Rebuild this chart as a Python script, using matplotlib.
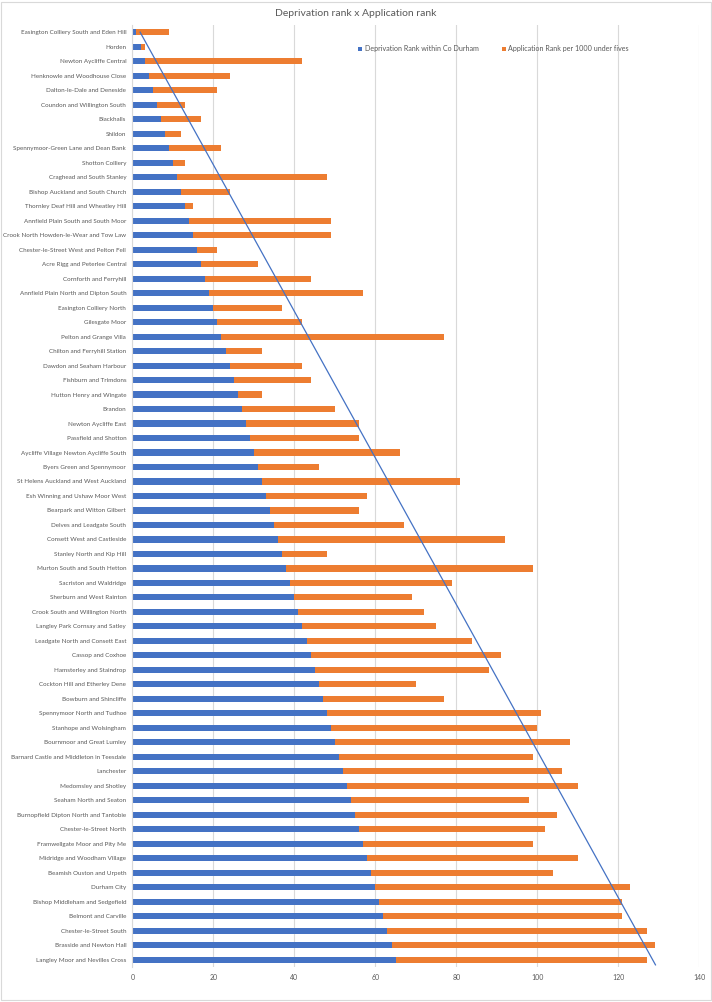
import numpy as np
import matplotlib
matplotlib.use("Agg")
import matplotlib.pyplot as plt
from matplotlib.patches import Rectangle

# wards, ordered by deprivation rank (top of chart first)
wards = [
    "Easington Colliery South and Eden Hill", "Horden", "Newton Aycliffe Central",
    "Henknowle and Woodhouse Close", "Dalton-le-Dale and Deneside",
    "Coundon and Willington South", "Blackhalls", "Shildon",
    "Spennymoor-Green Lane and Dean Bank", "Shotton Colliery",
    "Craghead and South Stanley", "Bishop Auckland and South Church",
    "Thornley Deaf Hill and Wheatley Hill", "Annfield Plain South and South Moor",
    "Crook North Howden-le-Wear and Tow Law", "Chester-le-Street West and Pelton Fell",
    "Acre Rigg and Peterlee Central", "Cornforth and Ferryhill",
    "Annfield Plain North and Dipton South", "Easington Colliery North",
    "Gilesgate Moor", "Pelton and Grange Villa", "Chilton and Ferryhill Station",
    "Dawdon and Seaham Harbour", "Fishburn and Trimdons", "Hutton Henry and Wingate",
    "Brandon", "Newton Aycliffe East", "Passfield and Shotton",
    "Aycliffe Village Newton Aycliffe South", "Byers Green and Spennymoor",
    "St Helens Auckland and West Auckland", "Esh Winning and Ushaw Moor West",
    "Bearpark and Witton Gilbert", "Delves and Leadgate South",
    "Consett West and Castleside", "Stanley North and Kip Hill",
    "Murton South and South Hetton", "Sacriston and Waldridge",
    "Sherburn and West Rainton", "Crook South and Willington North",
    "Langley Park Cornsay and Satley", "Leadgate North and Consett East",
    "Cassop and Coxhoe", "Hamsterley and Staindrop", "Cockton Hill and Etherley Dene",
    "Bowburn and Shincliffe", "Spennymoor North and Tudhoe", "Stanhope and Wolsingham",
    "Bournmoor and Great Lumley", "Barnard Castle and Middleton in Teesdale",
    "Lanchester", "Medomsley and Shotley", "Seaham North and Seaton",
    "Burnopfield Dipton North and Tantobie", "Chester-le-Street North",
    "Framwellgate Moor and Pity Me", "Midridge and Woodham Village",
    "Beamish Ouston and Urpeth", "Durham City", "Bishop Middleham and Sedgefield",
    "Belmont and Carville", "Chester-le-Street South", "Brasside and Newton Hall",
    "Langley Moor and Nevilles Cross",
]

deprivation_rank = list(range(1, 66))

application_rank = [
    8, 1, 39, 20, 16, 7, 10, 4, 13, 3, 37, 12, 2, 35, 34, 5, 14, 26, 38, 17,
    21, 55, 9, 18, 19, 6, 23, 28, 27, 36, 15, 49, 25, 22, 32, 56, 11, 61, 40, 29,
    31, 33, 41, 47, 43, 24, 30, 53, 51, 58, 48, 54, 57, 44, 50, 46, 42, 52, 45, 63,
    60, 59, 64, 65, 62,
]

# trend line (value at first and last ward)
trend_values = [1.9, 129.2]

BLUE = "#4472C4"
ORANGE = "#ED7D31"
GREY_TXT = "#595959"

plt.rcParams['font.family'] = ['Lato', 'DejaVu Sans']

fig = plt.figure(figsize=(7.12, 10.02), dpi=100)
ax = fig.add_axes([0.186, 0.0349, 0.796, 0.9402])

y = np.arange(len(wards))
dep = np.array(deprivation_rank)
app = np.array(application_rank)

ax.barh(y, dep, height=0.42, color=BLUE, label="Deprivation Rank within Co Durham", zorder=2)
ax.barh(y, app, left=dep, height=0.42, color=ORANGE,
        label="Application Rank per 1000 under fives", zorder=2)

# trend line across the wards
ax.plot(trend_values, [y[0], y[-1] + 0.35], color=BLUE, lw=0.9, zorder=3)

ax.set_ylim(len(wards) - 0.5, -0.5)
ax.set_xlim(0, 140)
ax.set_xticks(np.arange(0, 141, 20))
ax.set_yticks(y)
ax.set_yticklabels(wards, fontsize=4.5, color=GREY_TXT)
ax.tick_params(axis='x', labelsize=5, colors=GREY_TXT, length=0, pad=5)
ax.tick_params(axis='y', length=0, pad=4.5)
ax.grid(axis='x', color="#D9D9D9", lw=0.8, zorder=0)
ax.set_axisbelow(True)
for s in ['top', 'right', 'bottom']:
    ax.spines[s].set_visible(False)
ax.spines['left'].set_color("#D9D9D9")
ax.spines['left'].set_linewidth(0.8)

fig.text(0.5, 0.987, "Deprivation rank x Application rank", ha='center', va='center',
         fontsize=7.5, color=GREY_TXT)

leg = ax.legend(loc='upper left', bbox_to_anchor=(0.387, 0.985), ncol=2, frameon=False,
                fontsize=5.1, handlelength=0.6, handleheight=0.6, columnspacing=3.3,
                handletextpad=0.3, labelcolor=GREY_TXT)

fig.patches.append(Rectangle((0.002, 0.002), 0.996, 0.996, transform=fig.transFigure,
                             fill=False, edgecolor="#D9D9D9", lw=0.8))

fig.savefig("out.png", dpi=100)
